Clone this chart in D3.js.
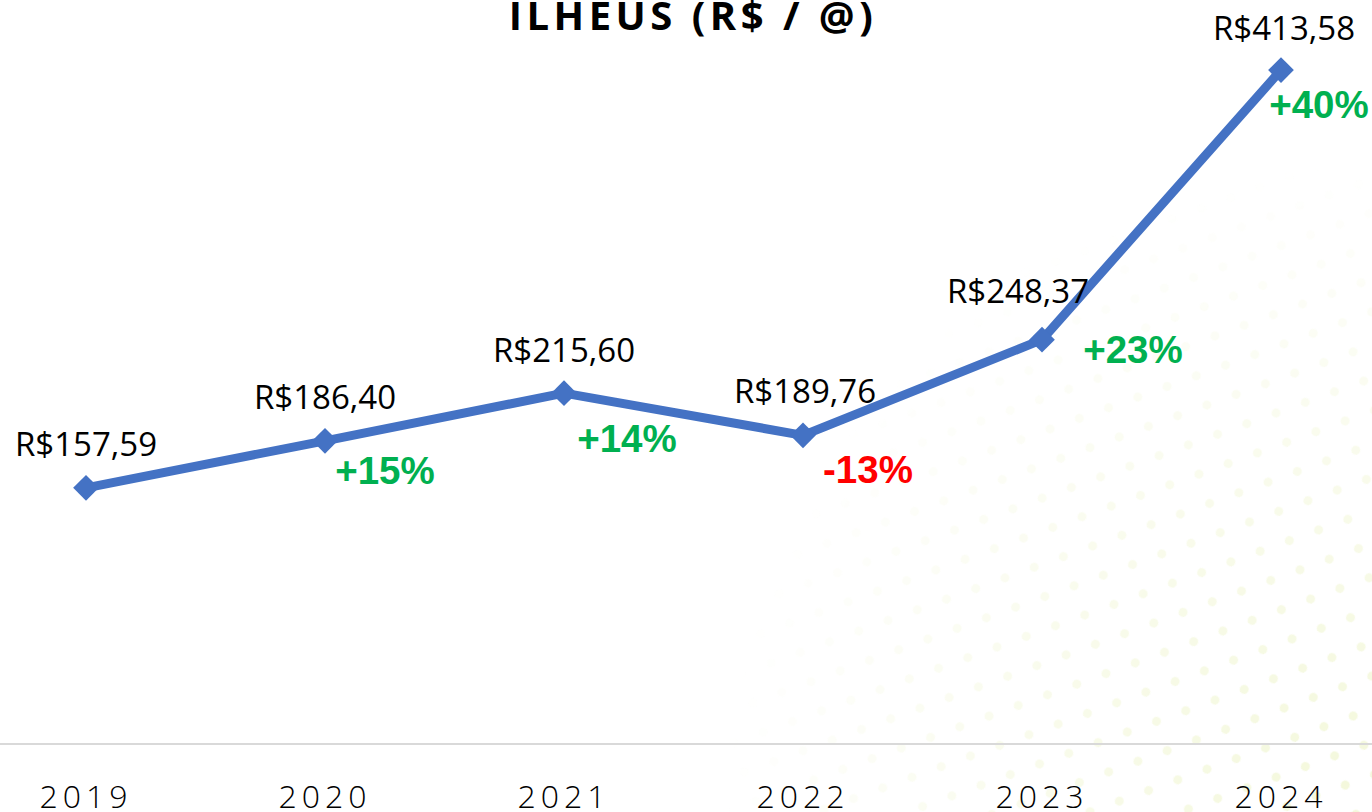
<!DOCTYPE html>
<html>
<head>
<meta charset="utf-8">
<script src="https://cdn.jsdelivr.net/npm/d3@7"></script>
<style>
  html, body { margin: 0; padding: 0; background: #fff; overflow: hidden; }
  svg { display: block; }
</style>
</head>
<body>
<div id="chart"></div>
<script>
// data
var years = ["2019", "2020", "2021", "2022", "2023", "2024"];
var prices = [157.59, 186.40, 215.60, 189.76, 248.37, 413.58];
var priceLabels = ["R$157,59", "R$186,40", "R$215,60", "R$189,76", "R$248,37", "R$413,58"];
var changeLabels = [null, "+15%", "+14%", "-13%", "+23%", "+40%"];

// label placement tweaks (relative to the marker)
var priceOffsets = [[0, -32], [0, -32], [0, -31], [2, -32], [-24, -37], [3, -30]];
var changeOffsets = [null, [60, 43], [63, 59], [65, 48], [91, 23], [38, 48]];

var width = 1372, height = 812;

var svg = d3.select("#chart").append("svg")
    .attr("width", width)
    .attr("height", height);

// faint dotted background in the lower right
var defs = svg.append("defs");
var pat = defs.append("pattern")
    .attr("id", "dots")
    .attr("width", 44).attr("height", 44)
    .attr("patternUnits", "userSpaceOnUse")
    .attr("patternTransform", "rotate(25)");
pat.append("circle").attr("cx", 11).attr("cy", 11).attr("r", 4.5).attr("fill", "#f2f7d6");
pat.append("circle").attr("cx", 33).attr("cy", 33).attr("r", 4.5).attr("fill", "#f2f7d6");

var grad = defs.append("radialGradient")
    .attr("id", "fade")
    .attr("gradientUnits", "userSpaceOnUse")
    .attr("cx", 1372).attr("cy", 812).attr("r", 650);
grad.append("stop").attr("offset", "0%").attr("stop-color", "#fff").attr("stop-opacity", 0.9);
grad.append("stop").attr("offset", "55%").attr("stop-color", "#fff").attr("stop-opacity", 0.45);
grad.append("stop").attr("offset", "100%").attr("stop-color", "#fff").attr("stop-opacity", 0);

var mask = defs.append("mask").attr("id", "fadeMask");
mask.append("rect").attr("width", width).attr("height", height).attr("fill", "url(#fade)");

svg.append("rect")
    .attr("width", width).attr("height", height)
    .attr("fill", "url(#dots)")
    .attr("mask", "url(#fadeMask)");

// scales
var xScale = d3.scaleBand()
    .domain(years)
    .range([-33.5, 1400.5])
    .padding(0);

var yScale = d3.scaleLinear()
    .domain([0, 450])
    .range([745, 10.6]);

function px(i) { return xScale(years[i]) + xScale.bandwidth() / 2; }
function py(i) { return yScale(prices[i]); }

// x axis
var xaxis = svg.append("g")
    .attr("class", "x axis")
    .attr("transform", "translate(0," + 744 + ")")
    .call(d3.axisBottom(xScale).tickSize(0).tickSizeOuter(0));

xaxis.select(".domain")
    .attr("d", "M0,0H" + width)
    .style("stroke", "#d9d9d9")
    .style("stroke-width", 2);

xaxis.selectAll("text")
    .attr("y", 64)
    .attr("dy", 0)
    .style("font-family", "'Open Sans', sans-serif")
    .style("font-weight", 350)
    .style("font-size", "32px")
    .style("letter-spacing", "5px")
    .style("fill", "#000");

// title
svg.append("text")
    .attr("x", 693)
    .attr("y", 30)
    .attr("text-anchor", "middle")
    .style("font-family", "'Open Sans', sans-serif")
    .style("font-weight", 700)
    .style("font-size", "40px")
    .style("letter-spacing", "4.5px")
    .style("fill", "#000")
    .text("ILHEUS (R$ / @)");

// line
var line = d3.line()
    .x(function(d, i) { return px(i); })
    .y(function(d) { return yScale(d); });

svg.append("path")
    .datum(prices)
    .attr("fill", "none")
    .attr("stroke", "#4472c4")
    .attr("stroke-width", 9)
    .attr("stroke-linejoin", "round")
    .attr("d", line);

// diamond markers
svg.selectAll(".marker")
    .data(prices)
    .enter().append("path")
    .attr("class", "marker")
    .attr("d", d3.symbol().type(d3.symbolSquare).size(330))
    .attr("transform", function(d, i) { return "translate(" + px(i) + "," + py(i) + ") rotate(45)"; })
    .attr("fill", "#4472c4");

// value labels
svg.selectAll(".price-label")
    .data(priceLabels)
    .enter().append("text")
    .attr("class", "price-label")
    .attr("x", function(d, i) { return px(i) + priceOffsets[i][0]; })
    .attr("y", function(d, i) { return py(i) + priceOffsets[i][1]; })
    .attr("text-anchor", "middle")
    .style("font-family", "'Open Sans', sans-serif")
    .style("font-size", "33px")
    .style("fill", "#000")
    .text(function(d) { return d; });

// change labels (first year has none)
var changes = changeLabels
    .map(function(d, i) { return { text: d, i: i }; })
    .filter(function(d) { return d.text !== null; });

svg.selectAll(".change-label")
    .data(changes)
    .enter().append("text")
    .attr("class", "change-label")
    .attr("x", function(d) { return px(d.i) + changeOffsets[d.i][0]; })
    .attr("y", function(d) { return py(d.i) + changeOffsets[d.i][1]; })
    .attr("text-anchor", "middle")
    .style("font-family", "'Liberation Sans', Arial, sans-serif")
    .style("font-weight", 700)
    .style("font-size", "38.5px")
    .style("fill", function(d) { return d.text.charAt(0) === "-" ? "#ff0000" : "#00b050"; })
    .text(function(d) { return d.text; });
</script>
</body>
</html>
